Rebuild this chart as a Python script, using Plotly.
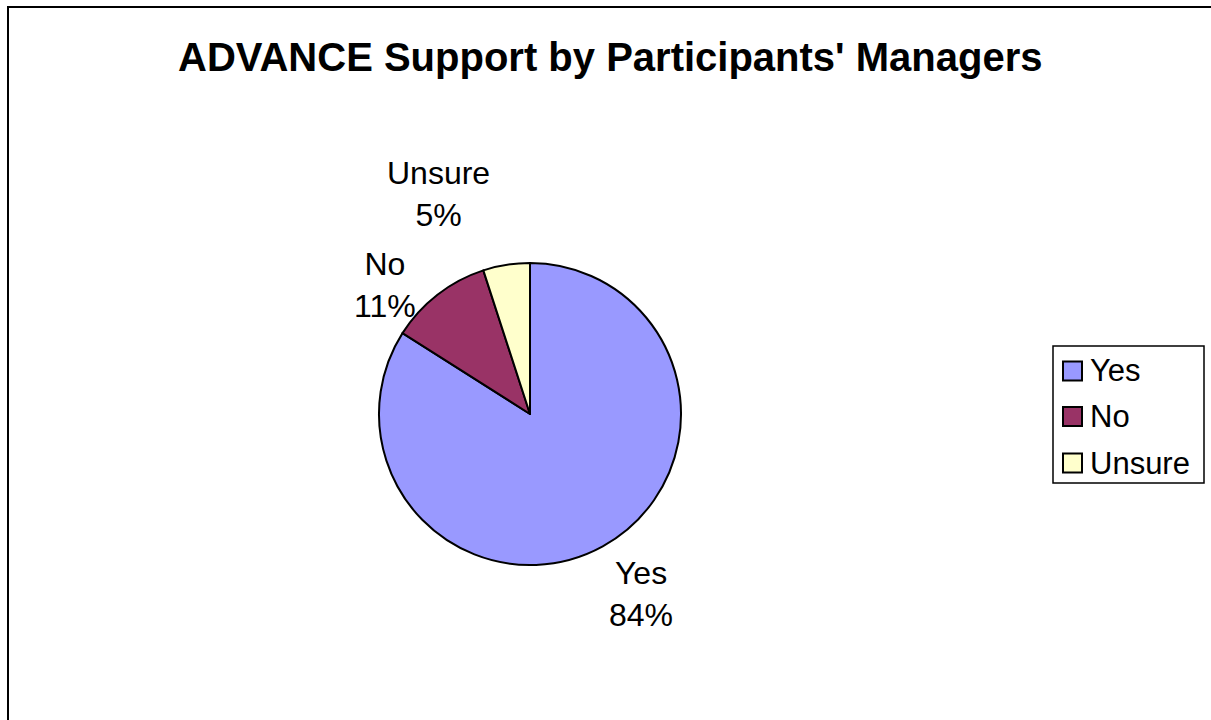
import plotly.graph_objects as go

# Survey responses: share of participants whose managers support ADVANCE
categories = ["Yes", "No", "Unsure"]
percentages = [84, 11, 5]
slice_colors = ["#9999FF", "#993366", "#FFFFCC"]

title_text = "ADVANCE Support by Participants' Managers"

W, H = 1211, 720
FONT = "Liberation Sans, Arial, sans-serif"


def px(x):
    return x / W


def py(y):
    return 1 - y / H


# Pie geometry in pixels
cx, cy, r = 530, 414, 151

fig = go.Figure(
    go.Pie(
        labels=categories,
        values=percentages,
        sort=False,
        direction="clockwise",
        rotation=0,
        marker=dict(colors=slice_colors, line=dict(color="black", width=2)),
        textinfo="none",
        hoverinfo="label+percent",
        showlegend=False,
        domain=dict(x=[px(cx - r), px(cx + r)], y=[py(cy + r), py(cy - r)]),
    )
)

# Data labels outside the slices: "category<br>percent%"
label_pos = {"Yes": (641, 594), "No": (385, 285), "Unsure": (438, 194)}
annotations = []
for cat, pct in zip(categories, percentages):
    lx, ly = label_pos[cat]
    annotations.append(
        dict(
            x=px(lx), y=py(ly), xref="paper", yref="paper",
            text=f"{cat}<br>{pct}%", showarrow=False,
            font=dict(family=FONT, size=32, color="black"),
            xanchor="center", yanchor="middle", align="center",
        )
    )

# Title
annotations.append(
    dict(
        x=px(610), y=py(57), xref="paper", yref="paper",
        text=f"<b>{title_text}</b>", showarrow=False,
        font=dict(family=FONT, size=40, color="black"),
        xanchor="center", yanchor="middle",
    )
)

shapes = [
    # Chart area border
    dict(type="rect", xref="paper", yref="paper",
         x0=px(8), x1=1.02, y0=-0.02, y1=py(7),
         line=dict(color="black", width=2), fillcolor="rgba(0,0,0,0)"),
    # Legend box
    dict(type="rect", xref="paper", yref="paper",
         x0=px(1053), x1=px(1204), y0=py(483), y1=py(346),
         line=dict(color="black", width=1.5), fillcolor="white"),
]

# Legend entries
row_y = [371, 416.5, 463]
for cat, col, yy in zip(categories, slice_colors, row_y):
    shapes.append(
        dict(type="rect", xref="paper", yref="paper",
             x0=px(1063), x1=px(1082), y0=py(yy + 9.5), y1=py(yy - 9.5),
             line=dict(color="black", width=2), fillcolor=col)
    )
    annotations.append(
        dict(x=px(1088), y=py(yy), xref="paper", yref="paper",
             text=cat, showarrow=False,
             font=dict(family=FONT, size=31, color="black"),
             xanchor="left", yanchor="middle")
    )

fig.update_layout(
    width=W, height=H,
    margin=dict(l=0, r=0, t=0, b=0),
    paper_bgcolor="white",
    plot_bgcolor="white",
    shapes=shapes,
    annotations=annotations,
)

fig.write_html("out.html")
